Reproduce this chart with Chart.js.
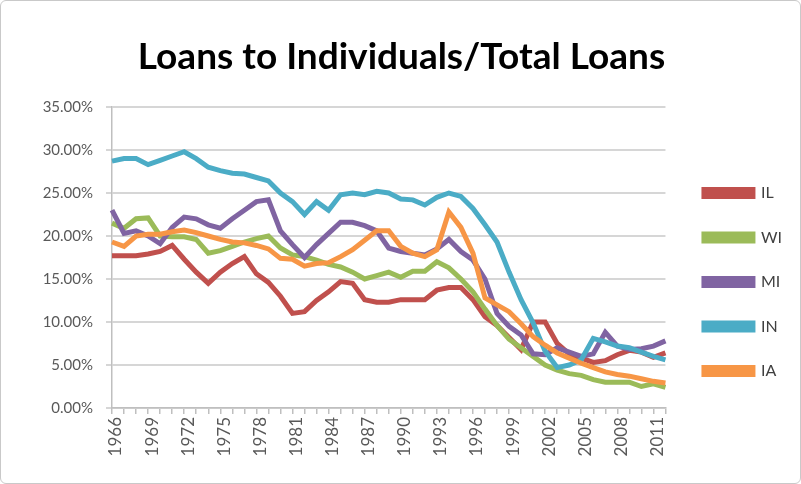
<!DOCTYPE html>
<html>
<head>
<meta charset="utf-8">
<script src="https://cdn.jsdelivr.net/npm/chart.js@4.4.1/dist/chart.umd.min.js"></script>
<style>
  html, body { margin: 0; padding: 0; background: #fff; }
  #wrap {
    width: 801px; height: 484px; box-sizing: border-box;
    border: 1px solid #c9c9c9; border-radius: 6px; overflow: hidden;
  }
</style>
</head>
<body>
<div id="wrap"><canvas id="loansChart" width="799" height="482"></canvas></div>
<script>
// years 1966 - 2012, share of loans to individuals in total loans (%)
const years = [];
for (let y = 1966; y <= 2012; y++) years.push(String(y));

const ilValues = [17.7, 17.7, 17.7, 17.9, 18.2, 18.9, 17.3, 15.8, 14.5, 15.8,
  16.8, 17.6, 15.6, 14.6, 13.0, 11.0, 11.2, 12.5, 13.5, 14.7,
  14.5, 12.6, 12.3, 12.3, 12.6, 12.6, 12.6, 13.7, 14.0, 14.0,
  12.6, 10.6, 9.6, 8.2, 6.8, 10.0, 10.0, 7.5, 6.3, 5.8,
  5.3, 5.5, 6.2, 6.7, 6.5, 5.9, 6.4];

const wiValues = [21.5, 20.9, 22.0, 22.1, 20.0, 19.9, 19.9, 19.6, 18.0, 18.3,
  18.8, 19.3, 19.7, 20.0, 18.6, 17.8, 17.6, 17.2, 16.7, 16.4,
  15.8, 15.0, 15.4, 15.8, 15.2, 15.9, 15.9, 17.0, 16.3, 15.0,
  13.5, 11.5, 9.6, 8.0, 7.0, 6.0, 5.0, 4.4, 4.0, 3.8,
  3.3, 3.0, 3.0, 3.0, 2.5, 2.8, 2.4];

const miValues = [23.0, 20.3, 20.6, 20.0, 19.1, 21.0, 22.2, 22.0, 21.3, 20.9,
  22.0, 23.0, 24.0, 24.2, 20.6, 19.0, 17.5, 19.0, 20.3, 21.6,
  21.6, 21.2, 20.6, 18.6, 18.2, 18.0, 17.8, 18.5, 19.6, 18.2,
  17.2, 15.0, 11.0, 9.5, 8.5, 6.3, 6.2, 7.0, 6.5, 6.0,
  6.3, 8.8, 7.2, 6.8, 6.9, 7.2, 7.8];

const inValues = [28.7, 29.0, 29.0, 28.3, 28.8, 29.3, 29.8, 29.0, 28.0, 27.6,
  27.3, 27.2, 26.8, 26.4, 25.0, 24.0, 22.5, 24.0, 23.0, 24.8,
  25.0, 24.8, 25.2, 25.0, 24.3, 24.2, 23.6, 24.5, 25.0, 24.6,
  23.2, 21.3, 19.3, 15.8, 12.6, 9.9, 6.6, 4.7, 5.0, 5.6,
  8.1, 7.7, 7.2, 7.0, 6.5, 6.0, 5.6];

const iaValues = [19.3, 18.8, 20.0, 20.2, 20.2, 20.5, 20.7, 20.4, 20.0, 19.6,
  19.3, 19.2, 18.9, 18.5, 17.4, 17.3, 16.5, 16.8, 16.9, 17.6,
  18.4, 19.5, 20.6, 20.6, 18.8, 18.0, 17.6, 18.4, 22.8, 21.0,
  18.0, 12.8, 12.0, 11.2, 9.8, 8.3, 7.3, 6.4, 5.8, 5.2,
  4.7, 4.2, 3.9, 3.7, 3.4, 3.1, 2.9];

const seriesNames = ['IL', 'WI', 'MI', 'IN', 'IA'];
const seriesColors = ['#C0504D', '#9BBB59', '#8064A2', '#4BACC6', '#F79646'];
const seriesData = [ilValues, wiValues, miValues, inValues, iaValues];

const AXIS_COLOR = '#595959';
const GRID_COLOR = '#d6d6d6';

const datasets = seriesNames.map((name, i) => ({
  label: name,
  data: seriesData[i],
  borderColor: seriesColors[i],
  backgroundColor: seriesColors[i],
  borderWidth: 5,
  pointRadius: 0,
  tension: 0,
  // last series on top, like the original
  order: seriesNames.length - i
}));

// nudge legend and title a bit to the right (padding alone can't do it)
const nudgeBlocks = {
  id: 'nudgeBlocks',
  afterLayout(chart) {
    chart.legend.left += 10;
    chart.legend.right += 10;
    if (chart.titleBlock) {
      chart.titleBlock.left += 10;
      chart.titleBlock.right += 10;
    }
  }
};

const ctx = document.getElementById('loansChart').getContext('2d');
const chart = new Chart(ctx, {
  type: 'line',
  data: { labels: years, datasets: datasets },
  plugins: [nudgeBlocks],
  options: {
    responsive: false,
    animation: false,
    layout: { padding: { left: 0, right: 18, top: 0, bottom: 0 } },
    scales: {
      x: {
        offset: false,
        afterFit: s => { s.height = 75; },
        grid: { drawOnChartArea: false, drawTicks: true, tickLength: 6, color: '#bfbfbf', lineWidth: 1.5 },
        border: { color: '#bfbfbf', width: 1.5 },
        ticks: {
          autoSkip: false,
          minRotation: 90,
          maxRotation: 90,
          labelOffset: 4,
          color: AXIS_COLOR,
          font: { family: 'Lato', size: 17 },
          callback: function (value, index) {
            return index % 3 === 0 ? this.getLabelForValue(value) : '';
          }
        }
      },
      y: {
        min: 0,
        max: 35,
        afterFit: s => { s.width = 111; },
        ticks: {
          stepSize: 5,
          color: AXIS_COLOR,
          font: { family: 'Lato', size: 15 },
          padding: 13,
          callback: v => v.toFixed(2) + '%'
        },
        grid: { color: GRID_COLOR, lineWidth: 2, tickLength: 6 },
        border: { color: '#bfbfbf', width: 1.5 }
      }
    },
    plugins: {
      title: {
        display: true,
        text: 'Loans to Individuals/Total Loans',
        color: '#000',
        font: { family: 'Lato', size: 37, weight: 'bold' },
        padding: { top: 34, bottom: 27.6 }
      },
      legend: {
        position: 'right',
        title: { display: true, text: '', font: { size: 10 }, padding: { top: 68, bottom: 0 } },
        labels: {
          boxWidth: 49,
          boxHeight: 7,
          padding: 28.5,
          color: '#404040',
          font: { family: 'Lato', size: 16 },
          sort: (a, b) => a.datasetIndex - b.datasetIndex
        }
      },
      tooltip: { enabled: false }
    }
  }
});
</script>
</body>
</html>
